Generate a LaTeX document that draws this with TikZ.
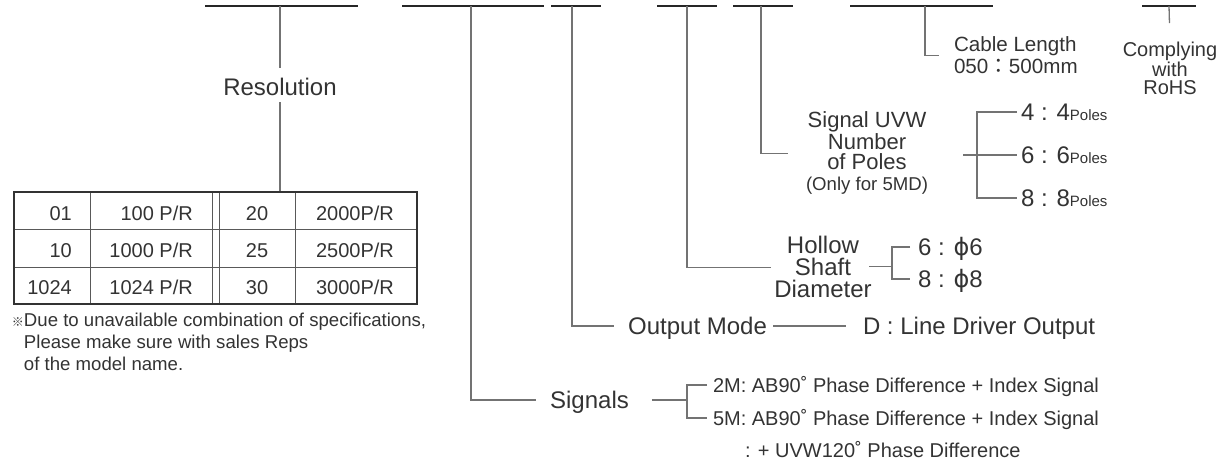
\documentclass[tikz,border=0pt]{standalone}
\usepackage{fontspec}
\setmainfont{Liberation Sans}
\newfontfamily\cjk{Noto Sans CJK JP}
\newfontfamily\dejavu{DejaVu Sans}
\usetikzlibrary{positioning}

\begin{document}
\begin{tikzpicture}[
  x=1pt, y=-1pt,
  bar/.style={draw=black!85, line width=1.3pt},
  conn/.style={draw=black!55, line width=1.3pt},
  rule/.style={draw=black!65, line width=1pt},
  lbl/.style={inner sep=0pt, outer sep=0pt, text=black!80, align=center},
  big/.style={lbl, font=\fontsize{24}{21}\selectfont, text height=17pt, text depth=0pt},
  mid/.style={lbl, font=\fontsize{20}{17}\selectfont, text height=14.3pt, text depth=0pt},
  cell/.style={inner sep=0pt, text=black!80, font=\fontsize{20}{20}\selectfont}
]
\useasboundingbox (0,0) rectangle (1220,463);

% code segments along the top
\foreach \a/\b/\c/\n in {205/358/280/res, 402/544/471/sig, 551/601/572/out,
    657/717/687/hol, 733/793/761/uvw, 850/993/925/cab, 1142/1196/1169/roh}{
  \draw[bar] (\a,6) -- (\b,6);
  \coordinate (\n) at (\c,6);
}

% resolution
\node[big] (resl) at (280,86.5) {Resolution};
\coordinate (tabtop) at (280,192);
\draw[conn, shorten >=10pt] (res) -- (resl.north);
\draw[conn, shorten <=7pt] (resl.south) -- (tabtop);

% resolution table
\foreach \x in {90,212,219,295} \draw[rule] (\x,192) -- (\x,304);
\foreach \y in {229,267} \draw[rule] (14,\y) -- (417,\y);
\draw[line width=1.3pt, draw=black!80] (14,192) rectangle (417,304);
\foreach \y/\a/\b/\c/\d [count=\i] in {220/01/100/20/2000, 257/10/1000/25/2500, 294/1024/1024/30/3000}{
  \node[cell, anchor=base east] (ca\i) at (72,\y) {\a};
  \node[cell, anchor=base east] (cb\i) at (193,\y) {\b\ P/R};
  \node[cell, anchor=base] (cc\i) at (257,\y) {\c};
  \node[cell, anchor=base] (cd\i) at (355,\y) {\d P/R};
}
\node[lbl, align=left, anchor=north west, font=\fontsize{18.6}{22}\selectfont] (note) at (12,313.5)
  {{\fontsize{12}{12}\selectfont\cjk ※}Due to unavailable combination of specifications,\\
   \phantom{{\fontsize{12}{12}\selectfont\cjk ※}}Please make sure with sales Reps\\
   \phantom{{\fontsize{12}{12}\selectfont\cjk ※}}of the model name.};

% signals
\node[big] (sigl) at (589.5,400) {Signals};
\coordinate (sigfork) at (687,400);
\node[mid, anchor=west] (s2) at (713,385) {2M: AB90˚ Phase Difference + Index Signal};
\node[mid, anchor=west] (s5) at (713,418) {5M: AB90˚ Phase Difference + Index Signal};
\node[mid, anchor=west] (s5b) at (745,450) {: + UVW120˚ Phase Difference};
\draw[conn, shorten >=14pt] (sig) |- (sigl.west);
\draw[conn, shorten <=23pt] (sigl.east) -- (sigfork);
\draw[conn, shorten <=6pt, shorten >=6pt] (s2.west) -| (sigfork) |- (s5.west);

% output mode
\node[big] (outl) at (697.5,326) {Output Mode};
\node[big, anchor=west] (drv) at (863,326) {D : Line Driver Output};
\draw[conn, shorten >=14.5pt] (out) |- (outl.west);
\draw[conn, shorten <=6.5pt, shorten >=17pt] (outl.east) -- (drv.west);

% hollow shaft diameter
\node[lbl, anchor=north, font=\fontsize{24}{22}\selectfont] (holl) at (823,236.5) {Hollow\\Shaft\\Diameter};
\coordinate (holfork) at (892,266.5);
\node[big, anchor=west] (h6) at (918,247) {6 : {\dejavu ϕ}6};
\node[big, anchor=west] (h8) at (918,279) {8 : {\dejavu ϕ}8};
\draw[conn, shorten >=3pt] (hol) |- (holl.west);
\draw[conn, shorten <=-2.5pt] (holl.east |- holfork) -- (holfork);
\draw[conn, shorten <=8pt, shorten >=8pt] (h6.west) -| (holfork) |- (h8.west);

% signal UVW number of poles
\node[lbl, anchor=north, font=\fontsize{22}{20.5}\selectfont] (uvwl) at (867,112)
  {Signal UVW\\Number\\of Poles\\{\fontsize{18.6}{20.5}\selectfont (Only for 5MD)}};
\coordinate (uvwfork) at (977,155);
\node[big, anchor=west] (p4) at (1021,112) {4 : 4{\fontsize{15}{15}\selectfont Poles}};
\node[big, anchor=west] (p6) at (1021,155) {6 : 6{\fontsize{15}{15}\selectfont Poles}};
\node[big, anchor=west] (p8) at (1021,198) {8 : 8{\fontsize{15}{15}\selectfont Poles}};
\draw[conn, shorten >=18.5pt] (uvw) |- (uvwl.west);
\draw[conn, shorten <=35.5pt, shorten >=4pt] (uvwl.east |- p6) -- (p6.west);
\draw[conn, shorten <=4pt, shorten >=4pt] (p4.west) -| (uvwfork) |- (p8.west);

% cable length
\node[lbl, align=left, anchor=north west, font=\fontsize{20.6}{22}\selectfont] (cabl) at (954,37)
  {Cable Length\\050{\cjk ：}500mm};
\draw[conn, shorten >=15pt] (cab) |- (cabl.west);

% RoHS
\node[lbl, anchor=north, font=\fontsize{20}{18}\selectfont] (rohl) at (1170,42.5) {Complying\\with\\RoHS};
\draw[conn, shorten >=19.5pt] (roh) -- (rohl.north);
\end{tikzpicture}
\end{document}
